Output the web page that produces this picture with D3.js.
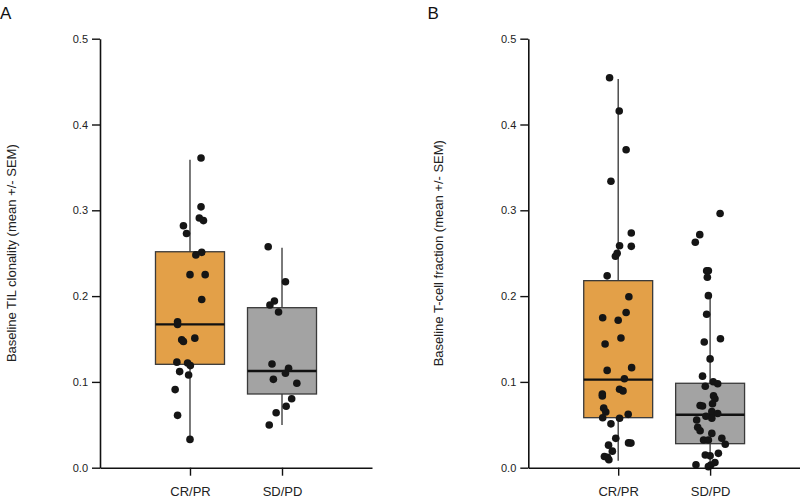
<!DOCTYPE html>
<html>
<head>
<meta charset="utf-8">
<script src="https://cdn.jsdelivr.net/npm/d3@7"></script>
<style>
  html, body { margin: 0; padding: 0; background: #fff; }
  svg { display: block; font-family: "Liberation Sans", Arial, sans-serif; }
</style>
</head>
<body>
<svg id="chart" width="800" height="499"></svg>
<script>
// ---------------- DATA ----------------
const categories = ["CR/PR", "SD/PD"];
const yTicks = [0.0, 0.1, 0.2, 0.3, 0.4, 0.5];

const panelLabels = ["A", "B"];
const yTitles = ["Baseline TIL clonality (mean +/- SEM)", "Baseline T-cell fraction (mean +/- SEM)"];

// box stats: [whiskerLow, q1, median, q3, whiskerHigh]
const statsA_CR = [0.033, 0.1205, 0.167, 0.2517, 0.359];
const statsA_SD = [0.0498, 0.0859, 0.1127, 0.1865, 0.2564];
const statsB_CR = [0.0082, 0.0583, 0.1026, 0.2180, 0.4530];
const statsB_SD = [0.001, 0.028, 0.0618, 0.0984, 0.1993];

// individual values
const valuesA_CR = [0.361, 0.304, 0.291, 0.288, 0.282, 0.273, 0.251, 0.248, 0.225, 0.225, 0.196, 0.170, 0.167, 0.151, 0.149, 0.147, 0.123, 0.122, 0.119, 0.112, 0.108, 0.091, 0.061, 0.033];
const jitterA_CR = [0.32, 0.32, 0.27, 0.39, -0.19, -0.10, 0.34, 0.17, 0.00, 0.44, 0.34, -0.36, -0.36, 0.14, -0.24, -0.19, -0.38, -0.07, 0.01, -0.30, -0.04, -0.43, -0.36, 0.00];

const valuesA_SD = [0.2576, 0.2168, 0.1943, 0.1896, 0.1815, 0.1209, 0.1158, 0.1100, 0.1030, 0.0984, 0.0804, 0.0716, 0.0641, 0.0498];
const jitterA_SD = [-0.40, 0.10, -0.22, -0.35, -0.10, -0.29, 0.19, 0.10, -0.25, 0.43, 0.28, 0.12, -0.17, -0.37];

const valuesB_CR = [0.4545, 0.4157, 0.3706, 0.3338, 0.2735, 0.2587, 0.2580, 0.2499, 0.2464, 0.2236, 0.1993, 0.1809, 0.1748, 0.1719, 0.1512, 0.1442, 0.1166, 0.1134, 0.1036, 0.0915, 0.0895, 0.0859, 0.0836, 0.0694, 0.0650, 0.0622, 0.0583, 0.0577, 0.0511, 0.0342, 0.0289, 0.0287, 0.0263, 0.0193, 0.0130, 0.0120, 0.0092];
const jitterB_CR = [-0.25, 0.03, 0.23, -0.21, 0.38, 0.04, 0.38, -0.03, -0.08, -0.32, 0.31, 0.23, -0.45, 0.00, 0.08, -0.38, 0.39, -0.32, 0.18, 0.04, 0.14, -0.46, -0.46, -0.42, -0.36, 0.29, -0.45, 0.04, -0.21, -0.07, 0.30, 0.37, -0.28, -0.17, -0.40, -0.31, -0.27];

const valuesB_SD = [0.2962, 0.2716, 0.2627, 0.2296, 0.2296, 0.2219, 0.2005, 0.1788, 0.1503, 0.1465, 0.1268, 0.1067, 0.1002, 0.0978, 0.0949, 0.0837, 0.0803, 0.0745, 0.0725, 0.0719, 0.0653, 0.0631, 0.0600, 0.0576, 0.0556, 0.0471, 0.0430, 0.0400, 0.0343, 0.0323, 0.0323, 0.0273, 0.0167, 0.0148, 0.0138, 0.0060, 0.0035, 0.0031, 0.0012];
const jitterB_SD = [0.29, -0.30, -0.43, -0.10, -0.05, -0.08, -0.05, -0.10, 0.30, -0.17, 0.00, -0.22, 0.09, 0.22, -0.14, 0.10, 0.14, 0.07, -0.29, -0.22, 0.05, 0.22, -0.12, 0.05, -0.39, -0.36, -0.29, 0.05, 0.34, -0.19, -0.05, 0.44, 0.24, -0.14, 0.00, 0.14, -0.41, 0.02, -0.05];

// ---------------- DRAW ----------------
const svg = d3.select("#chart");
svg.append("rect").attr("width", 800).attr("height", 499).attr("fill", "#fff");

const fillColors = ["#E3A048", "#A3A3A3"];
const y = d3.scaleLinear().domain([0, 0.5]).range([467.7, 38.7]);

const panels = [
  { axisX: 100, axisEnd: 372, labelX: 0, titleX: 15.5,
    stats: [statsA_CR, statsA_SD], values: [valuesA_CR, valuesA_SD], jitter: [jitterA_CR, jitterA_SD] },
  { axisX: 528.3, axisEnd: 800, labelX: 427.5, titleX: 442.5,
    stats: [statsB_CR, statsB_SD], values: [valuesB_CR, valuesB_SD], jitter: [jitterB_CR, jitterB_SD] }
];

panels.forEach((p, pi) => {
  const g = svg.append("g");
  const x = d3.scalePoint().domain(categories).range([p.axisX, p.axisEnd]).padding(0.978);
  const boxW = x.step() * 0.75;

  // panel letter
  g.append("text").attr("x", p.labelX).attr("y", 18.5)
    .attr("font-size", 17).attr("fill", "#111").text(panelLabels[pi]);

  // y title
  g.append("text")
    .attr("transform", `translate(${p.titleX},${(y(0) + y(0.5)) / 2}) rotate(-90)`)
    .attr("text-anchor", "middle").attr("font-size", 13).attr("fill", "#222")
    .text(yTitles[pi]);

  // boxes
  categories.forEach((c, ci) => {
    const s = p.stats[ci];
    const cx = x(c);
    g.append("line").attr("x1", cx).attr("x2", cx)
      .attr("y1", y(s[0])).attr("y2", y(s[4]))
      .attr("stroke", "#333").attr("stroke-width", 1.3);
    g.append("rect").attr("x", cx - boxW / 2).attr("width", boxW)
      .attr("y", y(s[3])).attr("height", y(s[1]) - y(s[3]))
      .attr("fill", fillColors[ci]).attr("stroke", "#3a3a3a").attr("stroke-width", 1.3);
    g.append("line").attr("x1", cx - boxW / 2).attr("x2", cx + boxW / 2)
      .attr("y1", y(s[2])).attr("y2", y(s[2]))
      .attr("stroke", "#111").attr("stroke-width", 2.4);
  });

  // points
  categories.forEach((c, ci) => {
    const vals = p.values[ci], jit = p.jitter[ci];
    g.selectAll(null).data(vals).enter().append("circle")
      .attr("cx", (d, i) => x(c) + jit[i] * boxW / 2)
      .attr("cy", d => y(d))
      .attr("r", 3.8)
      .attr("fill", "#151515");
  });

  // y axis
  const ya = g.append("g").attr("transform", `translate(${p.axisX},0)`)
    .call(d3.axisLeft(y).tickValues(yTicks).tickFormat(d3.format(".1f"))
      .tickSize(8).tickPadding(4).tickSizeOuter(0));
  ya.select(".domain").attr("stroke", "#111").attr("stroke-width", 1.6);
  ya.selectAll(".tick line").attr("stroke", "#111").attr("stroke-width", 1.4);
  ya.selectAll(".tick text").attr("font-size", 11).attr("fill", "#222")
    .attr("font-family", "Liberation Sans, Arial, sans-serif");

  // x axis
  const xa = g.append("g").attr("transform", `translate(0,${y(0)})`)
    .call(d3.axisBottom(x).tickSize(8).tickPadding(11).tickSizeOuter(0));
  xa.select(".domain").attr("stroke", "#111").attr("stroke-width", 1.6);
  xa.selectAll(".tick line").attr("stroke", "#111").attr("stroke-width", 1.4);
  xa.selectAll(".tick text").attr("font-size", 13).attr("fill", "#222")
    .attr("font-family", "Liberation Sans, Arial, sans-serif");
});
</script>
</body>
</html>
